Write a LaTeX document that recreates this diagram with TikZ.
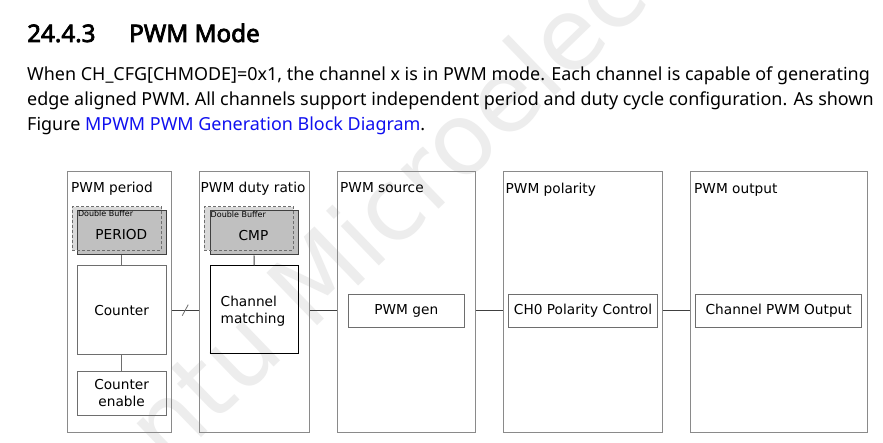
\documentclass[tikz,border=0pt]{standalone}
\usepackage{fontspec}
\setmainfont{Noto Sans}
\newfontfamily\djv{DejaVu Sans}
\newfontfamily\hbold{Noto Sans}[FakeBold=3]
\usetikzlibrary{calc}
\definecolor{colb}{HTML}{8A8A8A}
\definecolor{boxb}{HTML}{6E6E6E}
\definecolor{linec}{HTML}{404040}
\definecolor{dbfill}{HTML}{D9D9D9}
\definecolor{regfill}{HTML}{C0C0C0}
\definecolor{wmc}{HTML}{EDEDED}
\definecolor{linkc}{HTML}{1010F0}
\tikzset{
  colbox/.style={draw=colb, line width=1pt, inner sep=0pt},
  ttl/.style={anchor=base west, inner sep=0pt, font=\djv\fontsize{13.7}{16.5}\selectfont},
  inbox/.style={draw=boxb, line width=1pt, inner sep=0pt, font=\djv\fontsize{13.7}{16.5}\selectfont, align=center},
  dbshadow/.style={fill=dbfill, draw=none, inner sep=0pt},
  dbborder/.style={draw=boxb, dashed, dash pattern=on 3pt off 2pt, line width=0.8pt, inner sep=0pt},
  regbox/.style={fill=regfill, draw=linec, line width=1pt, inner sep=0pt, font=\djv\fontsize{13.7}{16.5}\selectfont},
  dbl/.style={anchor=north west, inner sep=0pt, font=\djv\fontsize{8}{9}\selectfont},
  conn/.style={draw=linec, line width=1pt},
  para/.style={anchor=base west, inner sep=0pt, font=\fontsize{17.95}{25}\selectfont},
  head/.style={anchor=base west, inner sep=0pt, font=\hbold\fontsize{24.2}{28}\selectfont}
}
\begin{document}
\begin{tikzpicture}[x=1pt,y=-1pt]
\useasboundingbox (0,0) rectangle (883,443);
\fill[white] (0,0) rectangle (883,443);
% watermark
\begin{scope}
\clip (0,0) rectangle (883,443);
\node[rotate=44, anchor=base west, inner sep=0pt, text=wmc, font=\djv\fontsize{100}{100}\selectfont] (wm) at (168,470) {ntu Microelec};
\end{scope}
% heading and paragraph
\node[head] (secno) at (27,42) {24.4.3};
\node[head] (sectitle) at (129,42) {PWM Mode};
\node[para] (p1) at (27,81) {When CH\_CFG[CHMODE]=0x1, the channel x is in PWM mode. Each channel is capable of generating};
\node[para] (p2) at (27,106) {edge aligned PWM. All channels support independent period and duty cycle configuration. As shown};
\node[para] (p3) at (27,131) {Figure {\color{linkc}MPWM PWM Generation Block Diagram}.};
% columns
\node[colbox, minimum width=104.5pt, minimum height=260pt] (c1) at (119.25,302) {};
\node[colbox, minimum width=110.5pt, minimum height=260pt] (c2) at (254.25,302) {};
\node[colbox, minimum width=138pt, minimum height=260pt] (c3) at (406,302) {};
\node[colbox, minimum width=159pt, minimum height=260pt] (c4) at (582.5,302) {};
\node[colbox, minimum width=177pt, minimum height=260pt] (c5) at (778.5,302) {};
\node[ttl] (t1) at (71,193) {PWM period};
\node[ttl] (t2) at (200.5,193) {PWM duty ratio};
\node[ttl] (t3) at (340,193) {PWM source};
\node[ttl] (t4) at (505.5,193.5) {PWM polarity};
\node[ttl] (t5) at (694,193.5) {PWM output};
% double buffered registers
\node[dbshadow, minimum width=89.4pt, minimum height=43.3pt] (db1) at (117,228.35) {};
\node[regbox, minimum width=88.7pt, minimum height=44.3pt] (period) at (121.65,232.85) {};
\node[dbborder, minimum width=89.4pt, minimum height=43.3pt] (db1b) at (117,228.35) {};
\node[dbl] (dbt1) at ([xshift=1pt,yshift=-0.5pt]period.north west) {Double Buffer};
\node[inner sep=0pt, font=\djv\fontsize{13.7}{16.5}\selectfont] (periodt) at (121.3,234.5) {PERIOD};
\node[dbshadow, minimum width=89.3pt, minimum height=43.3pt] (db2) at (248.65,228.35) {};
\node[regbox, minimum width=88.3pt, minimum height=44pt] (cmp) at (254.15,233) {};
\node[dbborder, minimum width=89.3pt, minimum height=43.3pt] (db2b) at (248.65,228.35) {};
\node[dbl] (dbt2) at ([xshift=1pt,yshift=-0.5pt]cmp.north west) {Double Buffer};
\node[inner sep=0pt, font=\djv\fontsize{13.7}{16.5}\selectfont] (cmpt) at (253.5,236) {CMP};
% inner boxes
\node[inbox, minimum width=88.7pt, minimum height=88.3pt] (counter) at (121.65,310.15) {Counter};
\node[inbox, minimum width=88.7pt, minimum height=44pt] (cen) at (121.65,393) {Counter\\enable};
\node[inbox, draw=black, minimum width=88pt, minimum height=88pt] (chm) at (254,310) {};
\node[inner sep=0pt, anchor=west, align=left, font=\djv\fontsize{13.7}{17}\selectfont] (chmt) at (220.5,311.5) {Channel\\matching};
\node[inbox, minimum width=116pt, minimum height=33pt] (gen) at (406.3,310.8) {PWM gen};
\node[inbox, minimum width=149.4pt, minimum height=33pt] (pol) at (583,310.8) {CH0 Polarity Control};
\node[inbox, minimum width=166pt, minimum height=33pt] (out) at (778.7,310.8) {Channel PWM Output};
% vertical links
\draw[conn, draw=boxb] (period.south) -- (counter.north);
\draw[conn, draw=boxb] (counter.south) -- (cen.north);
\draw[conn] (cmp.south) -- (chm.north);
% horizontal links between columns
\draw[conn] (c1.east |- counter) -- coordinate[midway] (s1) (c2.west |- counter);
\draw[draw=boxb, line width=0.8pt] ([shift={(-3,5.5)}]s1) -- ([shift={(3,-5.5)}]s1);
\draw[conn] (c2.east |- gen) -- (c3.west |- gen);
\draw[conn] (c3.east |- gen) -- (c4.west |- gen);
\draw[conn] (c4.east |- gen) -- (c5.west |- gen);
\end{tikzpicture}
\end{document}
